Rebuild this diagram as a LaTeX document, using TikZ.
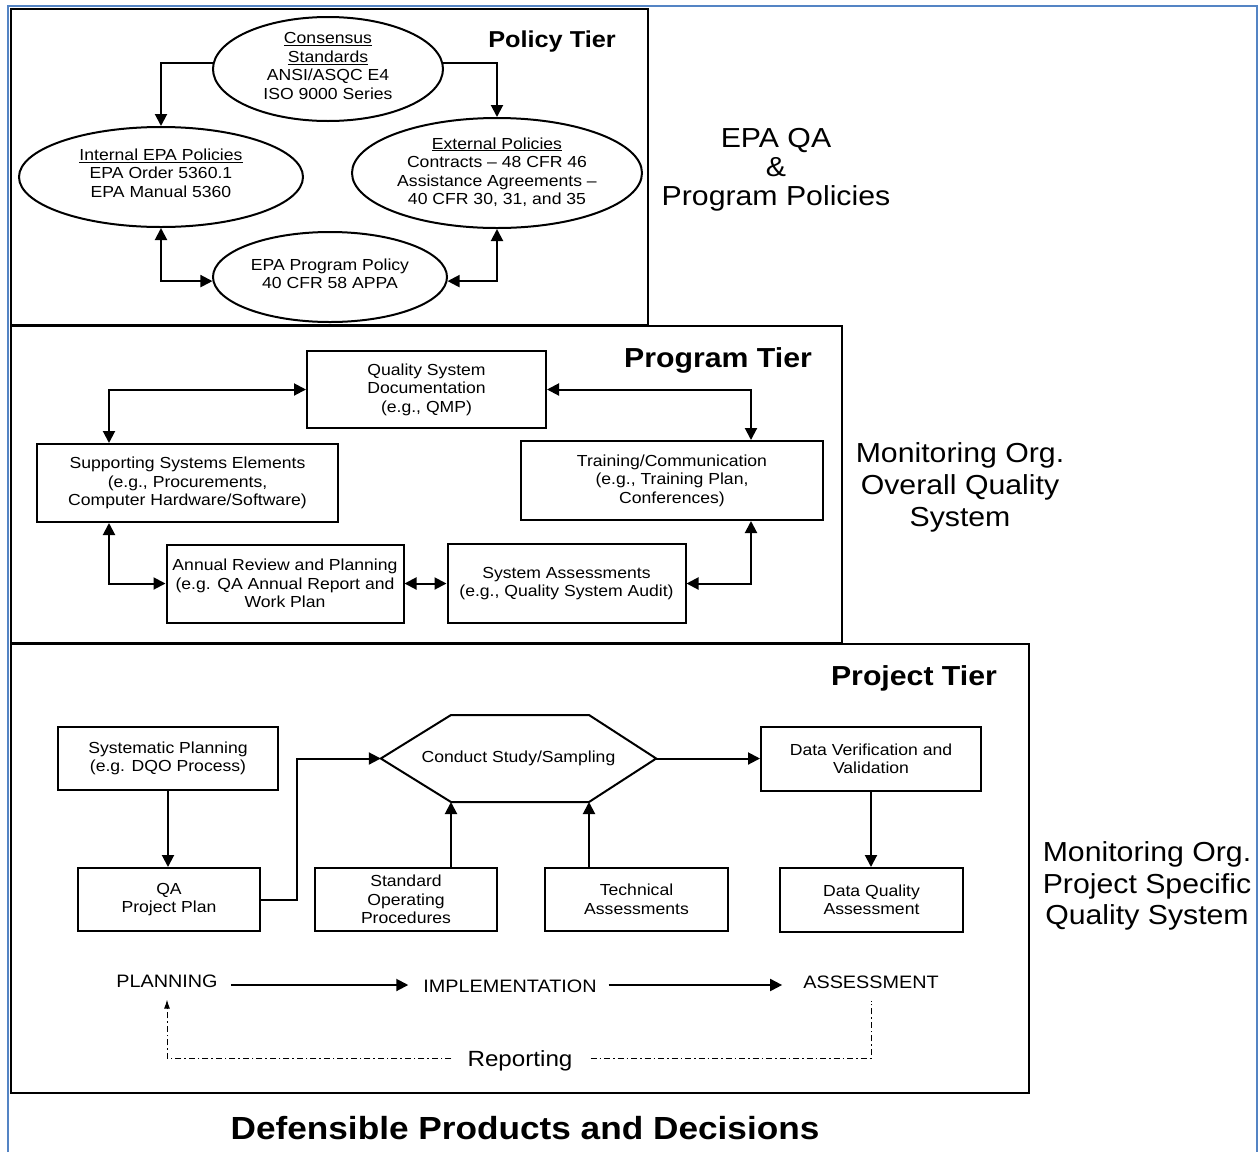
\documentclass[tikz,border=0pt]{standalone}
\usepackage{fontspec}
\setmainfont{Liberation Sans}[FakeStretch=1.1]
\usetikzlibrary{shapes.geometric,arrows.meta,calc}
\definecolor{framebl}{RGB}{84,132,196}
\newcommand\fsz[2]{\fontsize{#1}{#2}\selectfont}
\begin{document}
\begin{tikzpicture}[x=1pt,y=-1pt,
  box/.style={draw,line width=2pt,rectangle,align=center,inner sep=0pt,font=\fsz{16}{18.5}},
  ell/.style={draw,ellipse,line width=2pt,inner sep=0pt},
  txt/.style={align=center,inner sep=0pt,font=\fsz{16}{18.5}},
  tierbox/.style={draw,line width=2pt},
  tiertitle/.style={inner sep=0pt,font=\bfseries\fsz{27.5}{30}},
  side/.style={align=center,inner sep=0pt},
  lbl/.style={inner sep=0pt,font=\fsz{18}{20}},
  arr/.style={line width=2pt,-{Triangle[length=12pt,width=12pt]}},
  darr/.style={line width=2pt,{Triangle[length=12pt,width=12pt]}-{Triangle[length=12pt,width=12pt]}},
  dd/.style={line width=1pt,dash pattern=on 6pt off 3pt on 1.5pt off 3pt}
]
\useasboundingbox (0,0) rectangle (1259,1152);
\fill[white] (0,0) rectangle (1259,1152);
% outer frame
\draw[framebl,line width=2pt] (8,1152) -- (8,6) -- (1257,6) -- (1257,1152);
% tier boxes
\draw[tierbox] (11,9) rectangle (648,325);
\draw[tierbox] (11,326) rectangle (842,643);
\draw[tierbox] (11,644) rectangle (1029,1093);

% ---------------- Policy tier ----------------
\node[tiertitle,font=\bfseries\fsz{23}{26}] (poltitle) at (552,42) {Policy Tier};
\node[ell,minimum width=230pt,minimum height=104pt] (CON) at (328,69) {};
\node[txt] (CONt) at (328,66) {\underline{Consensus}\\\underline{Standards}\\ANSI/ASQC E4\\ISO 9000 Series};
\node[ell,minimum width=284pt,minimum height=100pt] (INT) at (161,177) {};
\node[txt] (INTt) at (161,173) {\underline{Internal EPA Policies}\\EPA Order 5360.1\\EPA Manual 5360};
\node[ell,minimum width=290pt,minimum height=110pt] (EXT) at (497,173) {};
\node[txt] (EXTt) at (497,172) {\underline{External Policies}\\Contracts – 48 CFR 46\\Assistance Agreements –\\40 CFR 30, 31, and 35};
\node[ell,minimum width=234pt,minimum height=90pt] (PP) at (330,277) {};
\node[txt] (PPt) at (330,274) {EPA Program Policy\\40 CFR 58 APPA};
\draw[arr] (CON.177) -| (INT.north);
\draw[arr] (CON.3) -| (EXT.north);
\draw[darr] (INT.south) |- (PP.182);
\draw[darr] (EXT.south) |- (PP.358);

\node[side,font=\fsz{27.5}{29}] (epaqa) at (776,170) {EPA QA\\\&\\Program Policies};

% ---------------- Program tier ----------------
\node[tiertitle] (progtitle) at (718,360) {Program Tier};
\node[box,minimum width=239pt,minimum height=77pt] (QSD) at (426.5,389.5) {Quality System\\Documentation\\(e.g., QMP)};
\node[box,minimum width=301pt,minimum height=78pt] (SSE) at (187.5,483) {Supporting Systems Elements\\(e.g., Procurements,\\Computer Hardware/Software)};
\node[box,minimum width=302pt,minimum height=79pt] (TC) at (672,480.5) {Training/Communication\\(e.g., Training Plan,\\Conferences)};
\node[box,minimum width=237pt,minimum height=78pt] (ARP) at (285,583.5) {Annual Review and Planning\\(e.g. QA Annual Report and\\Work Plan};
\node[box,minimum width=238pt,minimum height=79pt] (SA) at (566.5,583.5) {System Assessments\\(e.g., Quality System Audit)};
\draw[darr] (QSD.west) -| ($(SSE.north west)+(73,0)$);
\draw[darr] (QSD.east) -| ($(TC.north west)+(231,0)$);
\draw[darr] ($(SSE.south west)+(73,0)$) |- (ARP.west);
\draw[darr] (ARP.east) -- (SA.west);
\draw[darr] ($(TC.south west)+(231,0)$) |- (SA.east);

\node[side,font=\fsz{27.5}{32}] (mon1) at (960,487) {Monitoring Org.\\Overall Quality\\System};

% ---------------- Project tier ----------------
\node[tiertitle] (projtitle) at (914,678) {Project Tier};
\node[box,minimum width=220pt,minimum height=63pt] (SP) at (168,758.5) {Systematic Planning\\(e.g. DQO Process)};
\node[box,minimum width=182pt,minimum height=63pt] (QAPP) at (169,899.5) {QA\\Project Plan};
\node[box,minimum width=182pt,minimum height=63pt] (SOP) at (406,899.5) {Standard\\Operating\\Procedures};
\node[box,minimum width=183pt,minimum height=63pt] (TA) at (636.5,899.5) {Technical\\Assessments};
\node[box,minimum width=183pt,minimum height=64pt] (DQA) at (871.5,900) {Data Quality\\Assessment};
\node[box,minimum width=220pt,minimum height=64pt] (DVV) at (871,759) {Data Verification and\\Validation};
\node[txt,minimum width=275pt,minimum height=87pt] (CS) at (518.5,758.5) {Conduct Study/Sampling};
\coordinate (HTL) at (451,715);
\coordinate (HTR) at (589,715);
\coordinate (HBL) at (451,802);
\coordinate (HBR) at (589,802);
\draw[line width=2pt,line join=miter] (CS.west) -- (HTL) -- (HTR) -- (CS.east) -- (HBR) -- (HBL) -- cycle;
\draw[arr] (SP.south) -- (SP.south |- QAPP.north);
\draw[arr] (QAPP.east) -- ++(36,0) |- (CS.west);
\draw[arr] (SOP.north -| HBL) -- (HBL);
\draw[arr] (TA.north -| HBR) -- (HBR);
\draw[arr] (CS.east) -- (CS.east -| DVV.west);
\draw[arr] (DVV.south) -- (DVV.south |- DQA.north);

\node[lbl] (PLAN) at (167,981) {PLANNING};
\node[lbl] (IMPL) at (510,986) {IMPLEMENTATION};
\node[lbl] (ASSE) at (871,982) {ASSESSMENT};
\draw[arr] ($(PLAN.east)+(13,4)$) -- ($(IMPL.west)+(-15,-1)$);
\draw[arr] ($(IMPL.east)+(12,-1)$) -- ($(ASSE.west)+(-21,3)$);
\node[inner sep=0pt,font=\fsz{22}{24}] (REP) at (520,1061) {Reporting};
\draw[dd] ($(REP.east)+(18,-3)$) -| ($(ASSE.south)+(0,12)$);
\draw[dd,-{Latex[length=9pt,width=6pt]}] ($(REP.west)+(-16,-3)$) -| ($(PLAN.south)+(0,12)$);

\node[side,font=\fsz{27.5}{31.5}] (mon2) at (1147,886) {Monitoring Org.\\Project Specific\\Quality System};

\node[inner sep=0pt,font=\bfseries\fsz{32}{34}] (defens) at (525,1128) {Defensible Products and Decisions};
\end{tikzpicture}
\end{document}
